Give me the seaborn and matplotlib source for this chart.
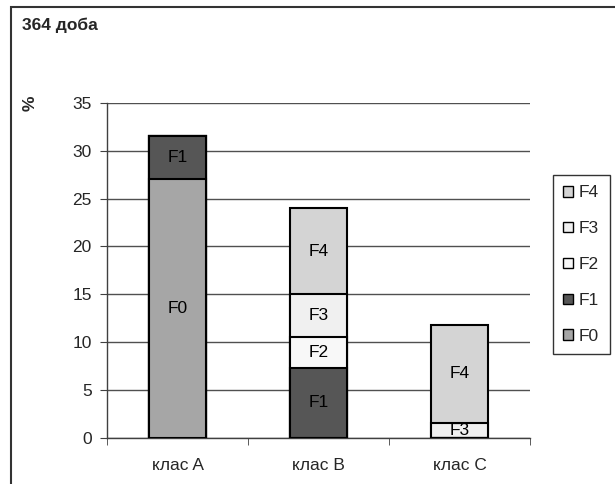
import numpy as np
import pandas as pd
import matplotlib
matplotlib.use("Agg")
import matplotlib.pyplot as plt
import seaborn as sns
from matplotlib.patches import Patch, Rectangle

# --- data ---
classes = ["клас A", "клас B", "клас C"]
layers = ["F0", "F1", "F2", "F3", "F4"]
f0 = [27.0, 0.0, 0.0]
f1 = [4.5, 7.3, 0.0]
f2 = [0.0, 3.2, 0.0]
f3 = [0.0, 4.5, 1.5]
f4 = [0.0, 9.0, 10.3]
colors = {"F0": "#a6a6a6", "F1": "#565656", "F2": "#f8f8f8",
          "F3": "#f0f0f0", "F4": "#d4d4d4"}

values = pd.DataFrame({"F0": f0, "F1": f1, "F2": f2, "F3": f3, "F4": f4},
                      index=classes)
cum = values.cumsum(axis=1)

sns.set_style("white")
plt.rcParams["font.family"] = ["Liberation Sans", "DejaVu Sans"]

fig = plt.figure(figsize=(6.15, 4.84), dpi=100)
ax = fig.add_axes([107 / 615, 1 - 437.5 / 484, 423 / 615, 334.5 / 484])

# stacked bars: draw cumulative totals from the top layer down
for layer in reversed(layers):
    df = pd.DataFrame({"klas": classes, "val": cum[layer].values})
    sns.barplot(data=df, x="klas", y="val", color=colors[layer],
                saturation=1, width=0.4, edgecolor="black", linewidth=1.5,
                ax=ax, zorder=3)

# segment labels
for i, c in enumerate(classes):
    bottom = 0
    for layer in layers:
        v = values.loc[c, layer]
        if v > 0:
            ax.text(i, bottom + v / 2, layer, ha="center", va="center",
                    fontsize=12.5, color="black", zorder=5)
        bottom += v

ax.set_ylim(0, 35)
ax.set_xlim(-0.5, 2.5)
ax.set_yticks(np.arange(0, 36, 5))
ax.yaxis.grid(True, color="#505050", linewidth=1)
ax.set_axisbelow(True)
ax.set_xlabel("")
ax.set_ylabel("")
for s in ["top", "right"]:
    ax.spines[s].set_visible(False)
for s in ["left", "bottom"]:
    ax.spines[s].set_color("#404040")
    ax.spines[s].set_linewidth(1)
ax.tick_params(axis="y", length=5, direction="out", left=True,
               labelsize=12.5, color="#404040", pad=6)
ax.tick_params(axis="x", length=0, labelsize=12.5, pad=15)
# category boundary ticks on the x axis
ax.set_xticks([-0.5, 0.5, 1.5, 2.5], minor=True)
ax.tick_params(axis="x", which="minor", length=5, direction="out",
               bottom=True, color="#404040")

fig.text(22 / 615, 1 - 25 / 484, "364 доба", fontsize=12.5, fontweight="bold",
         ha="left", va="center")
fig.text(30 / 615, 1 - 103 / 484, "%", fontsize=12.5, fontweight="bold",
         rotation=90, ha="center", va="center")

handles = [Patch(facecolor=colors[l], edgecolor="black", linewidth=1, label=l)
           for l in reversed(layers)]
leg = fig.legend(handles=handles, loc="upper left",
                 bbox_to_anchor=(553 / 615, 1 - 175 / 484),
                 frameon=True, fancybox=False, fontsize=12.5,
                 handlelength=0.55, handleheight=0.55, handletextpad=0.35,
                 labelspacing=1.2, borderpad=0.6, borderaxespad=0)
leg.get_frame().set_edgecolor("black")
leg.get_frame().set_linewidth(1)

# outer chart frame (continues past the right and bottom edge)
fig.patches.append(Rectangle((11 / 615, -0.1), 1.0, 1 - 7 / 484 + 0.1,
                             transform=fig.transFigure, fill=False,
                             edgecolor="#333333", linewidth=1.5))

fig.savefig("out.png", dpi=100)
